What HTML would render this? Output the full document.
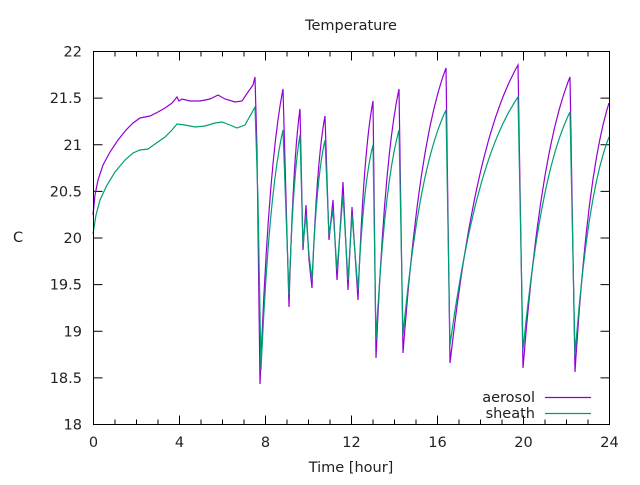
<!DOCTYPE html>
<html><head><meta charset="utf-8"><style>
html,body{margin:0;padding:0;background:#fff}
svg text{font-family:"DejaVu Sans","Liberation Sans",sans-serif;font-size:14.5px;fill:#222}
</style></head><body>
<svg id="s" width="640" height="480" xmlns="http://www.w3.org/2000/svg">
<rect width="640" height="480" fill="#fff"/>
<g id="ticks" stroke="#000" stroke-width="1"></g>
<g id="lbl"></g>
<path id="pa" fill="none" stroke="#9400d3" stroke-width="1.2"/>
<path id="ps" fill="none" stroke="#009e73" stroke-width="1.2"/>
<rect x="93.5" y="51.5" width="516" height="373" fill="none" stroke="#000" stroke-width="1"/>
<text x="351" y="30" text-anchor="middle">Temperature</text>
<text x="18" y="242" text-anchor="middle">C</text>
<text x="351" y="472" text-anchor="middle">Time [hour]</text>
<text x="535" y="402" text-anchor="end">aerosol</text>
<text x="535" y="418" text-anchor="end">sheath</text>
<line x1="545" y1="397.5" x2="591" y2="397.5" stroke="#9400d3" stroke-width="1.2"/>
<line x1="545" y1="413.5" x2="591" y2="413.5" stroke="#009e73" stroke-width="1.2"/>
</svg>
<script>
var NS="http://www.w3.org/2000/svg";
function el(n,a,p,t){var e=document.createElementNS(NS,n);for(var k in a)e.setAttribute(k,a[k]);if(t)e.textContent=t;document.getElementById(p).appendChild(e);}
var L=93.5,R=609.5,T=51.5,B=424.5;
for(var h=0;h<=24;h++){var x=L+(R-L)*h/24;var len=(h%4==0)?9:5;
 el("line",{x1:x,y1:B,x2:x,y2:B-len},"ticks");el("line",{x1:x,y1:T,x2:x,y2:T+len},"ticks");
 if(h%4==0)el("text",{x:x,y:447,"text-anchor":"middle"},"lbl",""+h);}
for(var i=0;i<=8;i++){var v=18+i*0.5;var y=B-(B-T)*i/8;
 el("line",{x1:L,y1:y,x2:L+9,y2:y},"ticks");el("line",{x1:R,y1:y,x2:R-9,y2:y},"ticks");
 el("text",{x:82,y:y+5,"text-anchor":"end"},"lbl",(v%1==0?v.toFixed(0):v.toFixed(1)));}
function build(pts){var d="M"+pts[0][0]+","+pts[0][1];
 for(var i=1;i<pts.length;i++){var p=pts[i],q=pts[i-1];
  if(p[2]){var k=1.6,n=30;for(var j=1;j<=n;j++){var t=j/n;var f=(1-Math.exp(-k*t))/(1-Math.exp(-k));
    d+=" L"+(q[0]+(p[0]-q[0])*t).toFixed(1)+","+(q[1]+(p[1]-q[1])*f).toFixed(1);}}
  else d+=" L"+p[0]+","+p[1];}
 return d;}
var A=[[93,215],[95,195],[98,180],[103,165],[110,152],[118,140],[126,130],[133,123],[140,118],[150,116],[158,112],[165,108],[172,103],[177,97],[179,101],[182,99],[190,101],[200,101],[210,99],[218,95],[225,99],[235,102],[242,101],[248,92],[253,85],[255,77],[257,150],[260,384],
[283,89,1],[289,307],[300,109,1],[303,250],[306,205],[309,260],[312,288],[325,116,1],[329,240],[333,200],[337,280],[343,182],[348,290],[352,207],[358,300],[373,101,1],[376,358],[399,89,1],[403,353],[446,68,1],[450,363],[518,65,1],[523,368],[570,77,1],[575,372],[609,103,1]];
var S=[[93,234],[96,215],[100,200],[107,185],[115,172],[125,160],[133,153],[140,150],[148,149],[155,144],[165,137],[172,130],[177,124],[185,125],[195,127],[205,126],[215,123],[222,122],[230,125],[237,128],[245,125],[250,116],[255,107],[258,200],[261,370],
[283,130,1],[289,295],[300,135,1],[303,245],[306,215],[309,255],[312,280],[325,140,1],[329,235],[333,210],[337,270],[343,195],[348,280],[352,215],[358,290],[373,145,1],[376,340],[399,130,1],[403,335],[446,110,1],[450,345],[518,97,1],[523,350],[570,112,1],[575,355],[609,137,1]];
document.getElementById("pa").setAttribute("d",build(A));
document.getElementById("ps").setAttribute("d",build(S));
</script>
</body></html>
